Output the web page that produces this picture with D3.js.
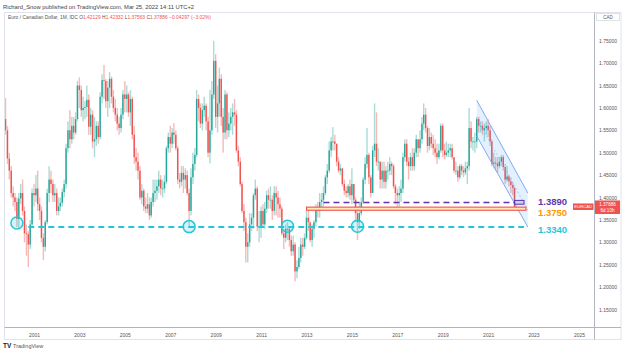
<!DOCTYPE html>
<html><head><meta charset="utf-8">
<script src="https://cdn.jsdelivr.net/npm/d3@7/dist/d3.min.js"></script>
<style>html,body{margin:0;padding:0;background:#fff}svg{display:block;font-family:"Liberation Sans",Arial,sans-serif}</style>
</head><body><svg id="c" width="624" height="353"></svg>
<script>
// Monthly EUR/CAD candles, first bar = Oct 1999
const firstMonth = [1999, 9];
const opens = [
1.575,1.550,1.487,
1.460,1.410,1.400,1.390,1.352,1.398,1.410,1.370,1.320,1.318,1.295,1.340,
1.410,1.405,1.420,1.385,1.370,1.310,1.290,1.345,1.410,1.440,1.430,1.405,
1.410,1.370,1.380,1.388,1.412,1.430,1.510,1.550,1.530,1.560,1.545,1.575,
1.650,1.640,1.595,1.600,1.602,1.618,1.558,1.585,1.525,1.530,1.560,1.535,
1.625,1.662,1.660,1.615,1.645,1.665,1.625,1.600,1.585,1.565,1.555,1.585,
1.630,1.620,1.630,1.590,1.620,1.540,1.490,1.480,1.460,1.400,1.415,1.380,
1.375,1.385,1.360,1.390,1.410,1.415,1.425,1.440,1.420,1.420,1.435,1.510,
1.535,1.520,1.545,1.540,1.510,1.440,1.435,1.455,1.440,1.450,1.410,1.370,
1.445,1.475,1.495,1.620,1.600,1.565,1.595,1.605,1.570,1.500,1.550,1.630,
1.705,1.580,1.610,1.665,1.580,1.545,1.630,1.550,1.565,1.580,1.590,1.585,
1.505,1.480,1.430,1.370,1.345,1.290,1.300,1.340,1.355,1.405,1.420,1.335,
1.335,1.370,1.340,1.375,1.405,1.395,1.395,1.370,1.410,1.400,1.385,1.375,
1.320,1.310,1.330,1.330,1.305,1.280,1.295,1.235,1.245,1.265,1.295,1.290,
1.310,1.355,1.345,1.305,1.330,1.345,1.375,1.370,1.390,1.395,1.410,1.445,
1.460,1.505,1.525,1.525,1.520,1.480,1.460,1.465,1.430,1.415,1.410,1.425,
1.405,1.430,1.395,1.365,1.345,1.365,1.390,1.440,1.475,1.495,1.445,1.410,
1.505,1.520,1.480,1.480,1.440,1.460,1.435,1.460,1.460,1.475,1.470,1.425,
1.410,1.405,1.410,1.420,1.490,1.520,1.480,1.470,1.490,1.470,1.500,1.530,
1.510,1.530,1.565,1.585,1.555,1.515,1.535,1.520,1.510,1.500,1.490,1.505,
1.560,1.505,1.495,1.500,1.505,1.510,1.490,1.460,1.460,1.445,1.470,1.460,
1.456,1.465,1.470,1.555,1.525,1.525,1.525,1.575,1.560,1.560,1.550,1.555,
1.560,1.550,1.525,1.475,1.478,1.476,1.470,1.480,1.490,1.468,1.440,1.447,
1.436,1.428,1.42129];
const highs = [
1.622,1.560,1.500,
1.470,1.425,1.410,1.400,1.410,1.430,1.440,1.380,1.340,1.325,1.350,1.420,
1.430,1.450,1.460,1.400,1.380,1.320,1.350,1.420,1.470,1.460,1.440,1.430,
1.420,1.400,1.400,1.420,1.440,1.520,1.570,1.595,1.580,1.580,1.590,1.660,
1.668,1.650,1.625,1.615,1.650,1.630,1.600,1.595,1.580,1.570,1.570,1.635,
1.675,1.696,1.665,1.660,1.680,1.670,1.640,1.620,1.600,1.580,1.600,1.640,
1.660,1.650,1.635,1.640,1.625,1.560,1.510,1.500,1.470,1.430,1.420,1.400,
1.410,1.400,1.400,1.440,1.440,1.440,1.460,1.450,1.440,1.450,1.515,1.545,
1.560,1.555,1.566,1.550,1.515,1.455,1.470,1.470,1.465,1.460,1.420,1.465,
1.500,1.510,1.640,1.630,1.610,1.610,1.625,1.610,1.580,1.640,1.660,1.750,
1.720,1.650,1.690,1.675,1.600,1.640,1.635,1.590,1.600,1.610,1.620,1.595,
1.515,1.490,1.435,1.385,1.355,1.320,1.365,1.365,1.410,1.440,1.425,1.370,
1.380,1.385,1.390,1.415,1.420,1.425,1.405,1.425,1.425,1.415,1.400,1.380,
1.330,1.340,1.345,1.335,1.315,1.315,1.300,1.260,1.290,1.310,1.310,1.320,
1.370,1.375,1.340,1.340,1.350,1.385,1.390,1.410,1.410,1.425,1.450,1.475,
1.525,1.535,1.557,1.540,1.520,1.490,1.475,1.465,1.440,1.425,1.430,1.440,
1.465,1.430,1.400,1.380,1.390,1.400,1.445,1.490,1.555,1.500,1.450,1.515,
1.610,1.590,1.510,1.480,1.480,1.480,1.470,1.480,1.490,1.480,1.475,1.430,
1.420,1.425,1.440,1.500,1.530,1.530,1.490,1.500,1.510,1.510,1.540,1.530,
1.550,1.580,1.610,1.600,1.560,1.555,1.545,1.540,1.530,1.520,1.520,1.565,
1.565,1.520,1.525,1.520,1.520,1.520,1.490,1.480,1.470,1.475,1.475,1.470,
1.480,1.480,1.600,1.570,1.535,1.545,1.580,1.580,1.570,1.570,1.565,1.570,
1.575,1.560,1.530,1.500,1.490,1.490,1.490,1.495,1.495,1.475,1.470,1.450,
1.445,1.435,1.42332];
const lows = [
1.540,1.475,1.440,
1.400,1.380,1.370,1.334,1.330,1.385,1.360,1.300,1.270,1.245,1.285,1.335,
1.380,1.390,1.370,1.350,1.300,1.260,1.280,1.340,1.390,1.410,1.390,1.390,
1.360,1.360,1.370,1.380,1.400,1.420,1.500,1.510,1.520,1.530,1.540,1.570,
1.600,1.580,1.570,1.575,1.580,1.540,1.540,1.510,1.490,1.515,1.520,1.530,
1.610,1.620,1.600,1.580,1.600,1.610,1.590,1.570,1.550,1.540,1.545,1.575,
1.590,1.590,1.580,1.560,1.530,1.475,1.460,1.440,1.395,1.385,1.370,1.365,
1.365,1.350,1.355,1.380,1.390,1.395,1.410,1.405,1.400,1.410,1.430,1.500,
1.500,1.510,1.520,1.505,1.430,1.420,1.425,1.410,1.420,1.405,1.334,1.360,
1.430,1.460,1.490,1.570,1.555,1.550,1.580,1.550,1.490,1.476,1.540,1.620,
1.555,1.545,1.580,1.560,1.500,1.530,1.530,1.535,1.550,1.540,1.560,1.500,
1.470,1.425,1.365,1.325,1.255,1.255,1.290,1.325,1.330,1.395,1.325,1.300,
1.310,1.335,1.330,1.365,1.375,1.375,1.350,1.360,1.360,1.355,1.355,1.315,
1.285,1.300,1.305,1.290,1.270,1.270,1.213,1.220,1.240,1.255,1.270,1.285,
1.305,1.325,1.300,1.290,1.310,1.335,1.355,1.355,1.370,1.380,1.405,1.430,
1.455,1.490,1.505,1.505,1.470,1.455,1.450,1.425,1.405,1.400,1.400,1.395,
1.385,1.390,1.345,1.305,1.330,1.360,1.385,1.430,1.465,1.430,1.400,1.410,
1.490,1.470,1.460,1.420,1.420,1.420,1.420,1.440,1.450,1.450,1.420,1.385,
1.378,1.380,1.390,1.410,1.480,1.470,1.440,1.460,1.460,1.460,1.490,1.490,
1.500,1.520,1.550,1.545,1.500,1.505,1.510,1.495,1.490,1.475,1.485,1.500,
1.490,1.485,1.490,1.490,1.490,1.485,1.455,1.450,1.435,1.440,1.450,1.445,
1.450,1.430,1.460,1.510,1.505,1.500,1.510,1.545,1.545,1.540,1.525,1.540,
1.535,1.515,1.470,1.465,1.460,1.455,1.465,1.470,1.460,1.430,1.435,1.425,
1.410,1.405,1.37563];
const closes = [
1.550,1.487,1.460,
1.410,1.400,1.390,1.352,1.398,1.410,1.370,1.320,1.318,1.295,1.340,1.410,
1.405,1.420,1.385,1.370,1.310,1.290,1.345,1.410,1.440,1.430,1.405,1.410,
1.370,1.380,1.388,1.412,1.430,1.510,1.550,1.530,1.560,1.545,1.575,1.650,
1.640,1.595,1.600,1.602,1.618,1.558,1.585,1.525,1.530,1.560,1.535,1.625,
1.662,1.660,1.615,1.645,1.665,1.625,1.600,1.585,1.565,1.555,1.585,1.630,
1.620,1.630,1.590,1.620,1.540,1.490,1.480,1.460,1.400,1.415,1.380,1.375,
1.385,1.360,1.390,1.410,1.415,1.425,1.440,1.420,1.420,1.435,1.510,1.535,
1.520,1.545,1.540,1.510,1.440,1.435,1.455,1.440,1.450,1.410,1.370,1.445,
1.475,1.495,1.620,1.600,1.565,1.595,1.605,1.570,1.500,1.550,1.630,1.705,
1.580,1.610,1.665,1.580,1.545,1.630,1.550,1.565,1.580,1.590,1.585,1.505,
1.480,1.430,1.370,1.345,1.290,1.300,1.340,1.355,1.405,1.420,1.335,1.335,
1.370,1.340,1.375,1.405,1.395,1.395,1.370,1.410,1.400,1.385,1.375,1.320,
1.310,1.330,1.330,1.305,1.280,1.295,1.235,1.245,1.265,1.295,1.290,1.310,
1.355,1.345,1.305,1.330,1.345,1.375,1.370,1.390,1.395,1.410,1.445,1.460,
1.505,1.525,1.525,1.520,1.480,1.460,1.465,1.430,1.415,1.410,1.425,1.405,
1.430,1.395,1.365,1.345,1.365,1.390,1.440,1.475,1.495,1.445,1.410,1.505,
1.520,1.480,1.480,1.440,1.460,1.435,1.460,1.460,1.475,1.470,1.425,1.410,
1.405,1.410,1.420,1.490,1.520,1.480,1.470,1.490,1.470,1.500,1.530,1.510,
1.530,1.565,1.585,1.555,1.515,1.535,1.520,1.510,1.500,1.490,1.505,1.560,
1.505,1.495,1.500,1.505,1.510,1.490,1.460,1.460,1.445,1.470,1.460,1.456,
1.465,1.470,1.555,1.525,1.525,1.525,1.575,1.560,1.560,1.550,1.555,1.560,
1.550,1.525,1.475,1.478,1.476,1.470,1.480,1.490,1.468,1.440,1.447,1.436,
1.428,1.42129,1.37886];

const priceTicks = [1.15,1.20,1.25,1.30,1.35,1.40,1.45,1.50,1.55,1.60,1.65,1.70,1.75];
const yearTicks = [2001,2003,2005,2007,2009,2011,2013,2015,2017,2019,2021,2023,2025];

const levels = [
  {price:1.3890, label:"1.3890", color:"#5e35b1"},
  {price:1.3750, label:"1.3750", color:"#ff9800"},
  {price:1.3340, label:"1.3340", color:"#26c6da"}
];
const circles = [[2000,3,1.343],[2007,10,1.335],[2012,2,1.336],[2015,3,1.336]];
const channelTop = [[2020,6,1.617],[2022,9,1.410]];
const channelBottom = [[2020,6,1.537],[2022,9,1.334]];

const header1 = "Richard_Snow published on TradingView.com, Mar 25, 2022 14:11 UTC+2";
const legendParts = [
  ["Euro / Canadian Dollar, 1M, IDC  ","#555"],["O","#555"],["1.42129 ","#ef5350"],["H","#555"],["1.42332 ","#ef5350"],
  ["L","#555"],["1.37563 ","#ef5350"],["C","#555"],["1.37886 ","#ef5350"],["\u22120.04297 (\u22123.02%)","#ef5350"]];

const svg = d3.select("#c");
const D = (y,m)=>new Date(Date.UTC(y,m,1));
const x = d3.scaleUtc().domain([D(2001,0), D(2025,0)]).range([34, 579]);
const y = d3.scaleLinear().domain([1.15,1.75]).range([309.5,40.7]);

const bars = closes.map((c,i)=>({t:D(firstMonth[0], firstMonth[1]+i), o:opens[i], h:highs[i], l:lows[i], c}));

svg.append("rect").attr("x",4.5).attr("y",12.5).attr("width",616.5).attr("height",327).attr("fill","none").attr("stroke","#e0e3eb");
svg.append("line").attr("x1",594.5).attr("x2",594.5).attr("y1",12.5).attr("y2",339.5).attr("stroke","#b2b5be");
svg.append("line").attr("x1",4.5).attr("x2",621).attr("y1",327.5).attr("y2",327.5).attr("stroke","#b2b5be");

svg.append("defs").append("clipPath").attr("id","pc").append("rect").attr("x",5).attr("y",13).attr("width",589).attr("height",314);
const plot = svg.append("g").attr("clip-path","url(#pc)");

const bw = 1.4;
const cg = plot.append("g");
cg.selectAll("rect.w").data(bars).join("rect").attr("class","w")
  .attr("x",d=>x(d.t)-bw/2).attr("width",bw)
  .attr("y",d=>y(d.h)).attr("height",d=>Math.max(0.5,y(d.l)-y(d.h)))
  .attr("fill",d=>d.c>=d.o?"#a9dcd6":"#f8b9b8");
cg.selectAll("rect.b").data(bars).join("rect").attr("class","b")
  .attr("x",d=>x(d.t)-bw/2).attr("width",bw)
  .attr("y",d=>y(Math.max(d.o,d.c))).attr("height",d=>Math.max(0.8,Math.abs(y(d.o)-y(d.c))))
  .attr("fill",d=>d.c>=d.o?"#26a69a":"#ef5350");

const chPts = [channelTop[0],channelTop[1],channelBottom[1],channelBottom[0]].map(p=>[x(D(p[0],p[1])),y(p[2])]);
plot.append("polygon").attr("points",chPts.map(p=>p.join(",")).join(" ")).attr("fill","rgba(33,150,243,0.13)").attr("stroke","none");
plot.append("line").attr("x1",chPts[0][0]).attr("y1",chPts[0][1]).attr("x2",chPts[1][0]).attr("y2",chPts[1][1]).attr("stroke","#7fa8f5").attr("stroke-width",1);
plot.append("line").attr("x1",chPts[3][0]).attr("y1",chPts[3][1]).attr("x2",chPts[2][0]).attr("y2",chPts[2][1]).attr("stroke","#7fa8f5").attr("stroke-width",1);
plot.append("line").attr("x1",chPts[0][0]).attr("y1",(chPts[0][1]+chPts[3][1])/2).attr("x2",chPts[1][0]).attr("y2",(chPts[1][1]+chPts[2][1])/2).attr("stroke","#9dbcf5").attr("stroke-width",0.8).attr("stroke-dasharray","2,2");

plot.append("line").attr("x1",x(D(2000,9))).attr("x2",x(D(2022,7))).attr("y1",y(1.334)).attr("y2",y(1.334))
  .attr("stroke","#26c6da").attr("stroke-width",2).attr("stroke-dasharray","6,4");
plot.append("line").attr("x1",x(D(2013,9))).attr("x2",x(D(2022,2))).attr("y1",y(1.389)).attr("y2",y(1.389))
  .attr("stroke","#5e35b1").attr("stroke-width",1.5).attr("stroke-dasharray","6,4");
plot.append("rect").attr("x",x(D(2022,2))).attr("y",y(1.3935)).attr("width",x(D(2022,7))-x(D(2022,2))).attr("height",y(1.385)-y(1.3935))
  .attr("fill","rgba(126,87,194,0.2)").attr("stroke","#5e35b1").attr("stroke-width",1);
plot.append("rect").attr("x",x(D(2013,0))).attr("y",y(1.3785)).attr("width",x(D(2022,8))-x(D(2013,0))).attr("height",y(1.3715)-y(1.3785))
  .attr("fill","#ffe6b3").attr("stroke","#ef5350").attr("stroke-width",1.1);
circles.forEach(c=>{
  plot.append("circle").attr("cx",x(D(c[0],c[1]))).attr("cy",y(c[2])).attr("r",6)
    .attr("fill","rgba(38,198,218,0.2)").attr("stroke","#26c6da").attr("stroke-width",1.5);
});
levels.forEach((l,i)=>{
  const yy = [201.5,212.8,229.5][i];
  svg.append("text").attr("x",538).attr("y",yy).attr("dy","0.35em").attr("fill",l.color)
    .attr("font-size",9.5).attr("font-weight","bold").text(l.label);
});

const ya = svg.append("g").attr("transform","translate(599,0)")
  .call(d3.axisRight(y).tickValues(priceTicks).tickFormat(d3.format(".5f")).tickSize(0));
ya.select(".domain").remove();
ya.selectAll("text").attr("x",0).attr("fill","#555").attr("font-size",5).style("font-family","Liberation Sans, Arial, sans-serif");

const xa = svg.append("g").attr("transform","translate(0,330)")
  .call(d3.axisBottom(x).tickValues(yearTicks.map(v=>D(v,0))).tickFormat(d3.utcFormat("%Y")).tickSize(0));
xa.select(".domain").remove();
xa.selectAll("text").attr("y",3).attr("fill","#555").attr("font-size",5).style("font-family","Liberation Sans, Arial, sans-serif");

svg.append("rect").attr("x",596.5).attr("y",13.5).attr("width",23).attr("height",7).attr("fill","#fff").attr("stroke","#d1d4dc").attr("stroke-width",0.7);
svg.append("text").attr("x",608).attr("y",17.2).attr("dy","0.35em").attr("text-anchor","middle").attr("font-size",4.5).attr("fill","#555").text("CAD");

const ly = y(1.37886);
svg.append("rect").attr("x",573).attr("y",ly-3.5).attr("width",20.5).attr("height",6.5).attr("fill","#ef5350");
svg.append("text").attr("x",583.2).attr("y",ly).attr("dy","0.35em").attr("text-anchor","middle").attr("font-size",4.2).attr("fill","#fff").text("EURCAD");
svg.append("rect").attr("x",595).attr("y",ly-6.5).attr("width",25).attr("height",13.5).attr("fill","#ef5350");
svg.append("text").attr("x",607.5).attr("y",ly-2.6).attr("dy","0.35em").attr("text-anchor","middle").attr("font-size",4.6).attr("fill","#fff").text("1.37886");
svg.append("text").attr("x",607.5).attr("y",ly+3).attr("dy","0.35em").attr("text-anchor","middle").attr("font-size",4.6).attr("fill","#fff").text("6d 10h");

svg.append("text").attr("x",3).attr("y",8.5).attr("font-size",5.8).attr("fill","#444").text(header1);
const lg = svg.append("text").attr("x",8).attr("y",18.5).attr("font-size",4.9);
legendParts.forEach(p=>lg.append("tspan").attr("fill",p[1]).text(p[0]));

svg.append("text").attr("x",3).attr("y",348).attr("font-size",6.5).attr("font-weight","bold").attr("fill","#131722").text("TV");
svg.append("text").attr("x",13).attr("y",348).attr("font-size",5.5).attr("fill","#555").text("TradingView");
</script></body></html>
